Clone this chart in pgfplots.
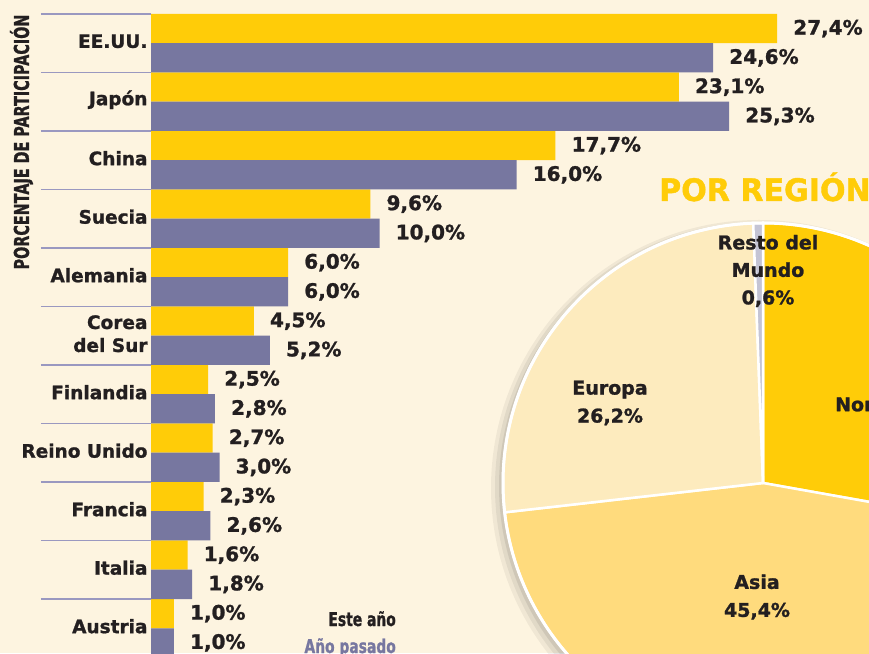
\documentclass[border=0pt]{standalone}
\usepackage{pgfplots}
\pgfplotsset{compat=1.18}
\pgfplotsset{/pgf/number format/assume math mode=true}
\usepackage{fontspec}
\setmainfont{DejaVu Sans}[BoldFeatures={FakeBold=1.2}]
\definecolor{bg}{HTML}{FDF4E0}
\definecolor{yel}{HTML}{FFCC08}
\definecolor{pur}{HTML}{7777A0}
\definecolor{sepc}{HTML}{9A98C0}
\definecolor{dark}{HTML}{231F20}
\definecolor{eur}{HTML}{FDEBBE}
\definecolor{asi}{HTML}{FFDB7D}
\definecolor{rest}{HTML}{C4C4D4}
% pie values (percent)
\def\vNA{27.8}\def\vAS{45.4}\def\vEU{26.2}\def\vRM{0.6}
\pgfmathsetmacro\aA{90-3.6*\vNA}
\pgfmathsetmacro\aB{\aA-3.6*\vAS}
\pgfmathsetmacro\aC{\aB-3.6*\vEU}
\pgfmathsetmacro\aD{\aC-3.6*\vRM}
\begin{document}
\begin{tikzpicture}[x=1pt,y=1pt]
\useasboundingbox (0pt,0pt) rectangle (869pt,653pt);
\fill[bg] (0pt,0pt) rectangle (869pt,653pt);
\clip (0pt,0pt) rectangle (869pt,653pt);

% y label
\node[rotate=90, inner sep=0pt, text=dark, font=\fontsize{20.5}{20.5}\selectfont\bfseries] at (21.5pt,511pt)
  {\scalebox{0.70}[1]{PORCENTAJE DE PARTICIPACIÓN}};

\begin{axis}[
  at={(151pt,639pt)}, anchor=north west,
  scale only axis, width=685.5pt, height=643.5pt,
  xmin=0, xmax=30, ymin=-0.5, ymax=10.5,
  xbar, bar width=29.25pt,
  clip=false,
  axis line style={draw=none},
  xtick=\empty,
  ytick={0,...,10},
  yticklabels={Austria,Italia,Francia,Reino Unido,Finlandia,{Corea\\del Sur},Alemania,Suecia,China,Japón,EE.UU.},
  yticklabel style={align=right, text=dark, font=\fontsize{18.5}{23}\selectfont\bfseries, yshift=2pt},
  major tick length=0pt,
  ytick pos=left,
  extra y ticks={-0.5,0.5,1.5,2.5,3.5,4.5,5.5,6.5,7.5,8.5,9.5,10.5},
  extra y tick labels={},
  extra y tick style={major tick length=110pt, tick align=outside, tick style={draw=sepc, line width=1.6pt}},
  point meta=x,
  nodes near coords={\pgfmathprintnumber[fixed,fixed zerofill,precision=1,use comma,assume math mode=true]{\pgfplotspointmeta}\%},
  nodes near coords style={anchor=west, inner sep=0pt, xshift=16pt, text=dark, font=\fontsize{20}{20}\selectfont\bfseries},
]
% Este año
\addplot[fill=yel, draw=none, bar shift=0pt] coordinates {
 (27.4,10.25) (23.1,9.25) (17.7,8.25) (9.6,7.25) (6.0,6.25) (4.5,5.25)
 (2.5,4.25) (2.7,3.25) (2.3,2.25) (1.6,1.25) (1.0,0.25)};
% Año pasado
\addplot[fill=pur, draw=none, bar shift=0pt] coordinates {
 (24.6,9.75) (25.3,8.75) (16.0,7.75) (10.0,6.75) (6.0,5.75) (5.2,4.75)
 (2.8,3.75) (3.0,2.75) (2.6,1.75) (1.8,0.75) (1.0,-0.25)};
\end{axis}

% legend
\node[anchor=base east, inner sep=0pt, text=dark, font=\fontsize{19}{19}\selectfont\bfseries] at (396pt,27pt) {\scalebox{0.73}[1]{Este año}};
\node[anchor=base east, inner sep=0pt, text=pur, font=\fontsize{19}{19}\selectfont\bfseries] at (396pt,0pt) {\scalebox{0.73}[1]{Año pasado}};

% title
\node[anchor=base west, inner sep=0pt, text=yel, font=\fontsize{31}{31}\selectfont\bfseries] at (659pt,452pt) {\scalebox{0.97}[1]{POR REGIÓN}};

% pie
\begin{axis}[
  at={(763pt,170pt)}, anchor=center, scale only axis,
  x=1pt, y=1pt, xmin=-300, xmax=300, ymin=-300, ymax=300,
  hide axis, clip=false]
\fill[black, opacity=0.05] (axis cs:-4,-5) circle[radius=268pt];
\fill[black, opacity=0.06] (axis cs:-3,-4) circle[radius=265pt];
\fill[black, opacity=0.08] (axis cs:-2,-3) circle[radius=262pt];
\filldraw[fill=yel, draw=white, line width=2.5pt] (axis cs:0,0) -- ++(90:260pt) arc[start angle=90, end angle=\aA, radius=260pt] -- cycle;
\filldraw[fill=asi, draw=white, line width=2.5pt] (axis cs:0,0) -- ++(\aA:260pt) arc[start angle=\aA, end angle=\aB, radius=260pt] -- cycle;
\filldraw[fill=eur, draw=white, line width=2.5pt] (axis cs:0,0) -- ++(\aB:260pt) arc[start angle=\aB, end angle=\aC, radius=260pt] -- cycle;
\filldraw[fill=rest, draw=white, line width=2.5pt] (axis cs:0,0) -- ++(\aC:260pt) arc[start angle=\aC, end angle=\aD, radius=260pt] -- cycle;
\draw[white, line width=3pt] (axis cs:0,0) circle[radius=260pt];
\node[align=center, text=dark, font=\fontsize{19}{27.5}\selectfont\bfseries] at (axis cs:5,212) {Resto del\\Mundo\\0,6\%};
\node[align=center, text=dark, font=\fontsize{19}{28}\selectfont\bfseries] at (axis cs:-153,80) {Europa\\26,2\%};
\node[align=center, text=dark, font=\fontsize{19}{28}\selectfont\bfseries] at (axis cs:-6,-114) {Asia\\45,4\%};
\node[align=center, text=dark, font=\fontsize{19}{28}\selectfont\bfseries] at (axis cs:145,64) {Norteamérica\\27,8\%};
\end{axis}
\end{tikzpicture}
\end{document}
